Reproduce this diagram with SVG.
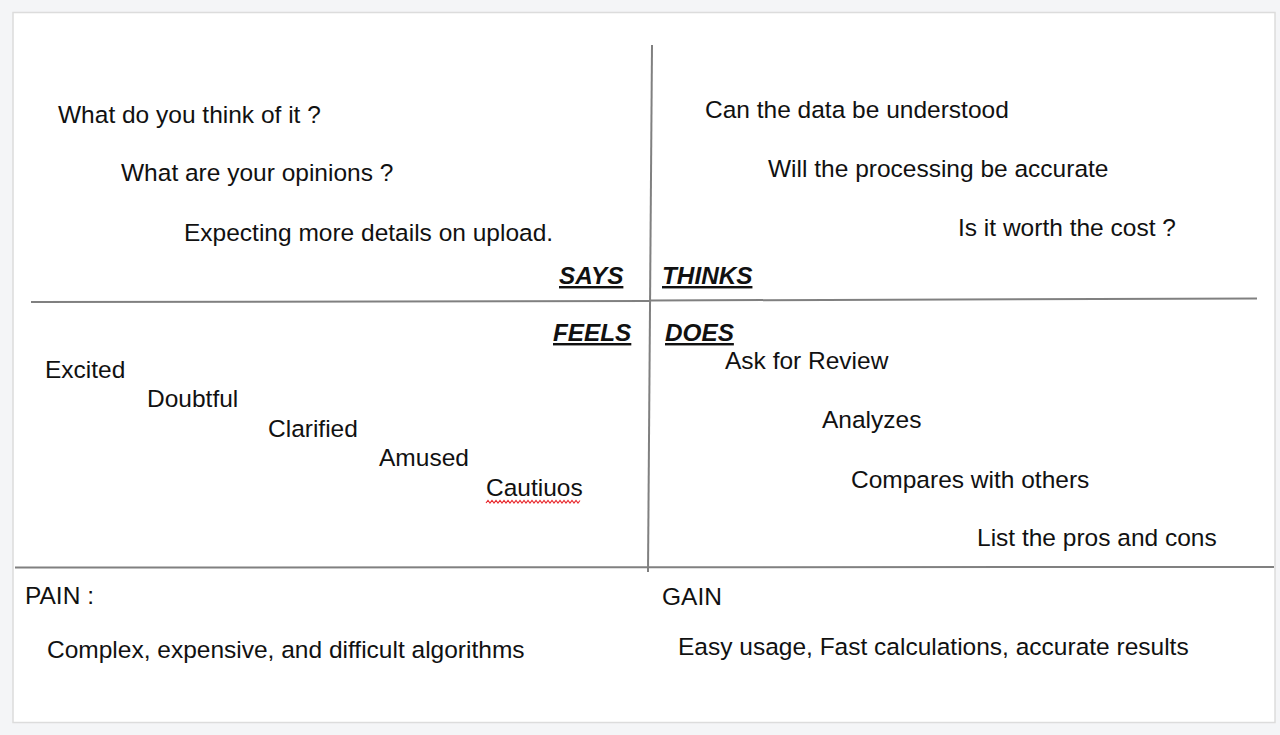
<svg xmlns="http://www.w3.org/2000/svg" width="1280" height="735" viewBox="0 0 1280 735">
<style>
.t{font-family:"Liberation Sans",Arial,sans-serif;font-size:24.5px;fill:#111}
.h{font-family:"Liberation Sans",Arial,sans-serif;font-size:24.3px;font-weight:bold;font-style:italic;fill:#111;text-decoration:underline}
.ln{stroke:#808080;stroke-width:2;fill:none}
</style>
<rect x="0" y="0" width="1280" height="735" fill="#f4f5f7"/>
<rect x="13" y="12.5" width="1262" height="710" fill="#ffffff" stroke="#dcdcdc" stroke-width="1.5"/>
<g id="connectors">
<line class="ln" x1="652" y1="45" x2="648" y2="572"/>
<line class="ln" x1="31" y1="302" x2="650" y2="301"/>
<line class="ln" x1="650" y1="300.5" x2="1257" y2="298.5"/>
<line class="ln" x1="15" y1="567.5" x2="1274" y2="567"/>
</g>
<g id="says">
<text class="t" x="58" y="123">What do you think of it ?</text>
<text class="t" x="121" y="181">What are your opinions ?</text>
<text class="t" x="184" y="241">Expecting more details on upload.</text>
<text class="h" x="559" y="284">SAYS</text>
</g>
<g id="thinks">
<text class="t" x="705" y="118">Can the data be understood</text>
<text class="t" x="768" y="177">Will the processing be accurate</text>
<text class="t" x="958" y="236">Is it worth the cost ?</text>
<text class="h" x="662" y="284">THINKS</text>
</g>
<g id="feels">
<text class="h" x="553" y="341">FEELS</text>
<text class="t" x="45" y="378">Excited</text>
<text class="t" x="147" y="407">Doubtful</text>
<text class="t" x="268" y="437">Clarified</text>
<text class="t" x="379" y="466">Amused</text>
<text class="t" x="486" y="496">Cautiuos</text>
<path d="M486 503 l2 -2.5 l2 2.5 l2 -2.5 l2 2.5 l2 -2.5 l2 2.5 l2 -2.5 l2 2.5 l2 -2.5 l2 2.5 l2 -2.5 l2 2.5 l2 -2.5 l2 2.5 l2 -2.5 l2 2.5 l2 -2.5 l2 2.5 l2 -2.5 l2 2.5 l2 -2.5 l2 2.5 l2 -2.5 l2 2.5 l2 -2.5 l2 2.5 l2 -2.5 l2 2.5 l2 -2.5 l2 2.5 l2 -2.5 l2 2.5 l2 -2.5 l2 2.5 l2 -2.5 l2 2.5 l2 -2.5 l2 2.5 l2 -2.5 l2 2.5 l2 -2.5 l2 2.5 l2 -2.5 l2 2.5 l2 -2.5 l2 2.5 l2 -2.5" fill="none" stroke="#e8262b" stroke-width="1.1"/>
</g>
<g id="does">
<text class="h" x="665" y="341">DOES</text>
<text class="t" x="725" y="369">Ask for Review</text>
<text class="t" x="822" y="428">Analyzes</text>
<text class="t" x="851" y="488">Compares with others</text>
<text class="t" x="977" y="546">List the pros and cons</text>
</g>
<g id="pain">
<text class="t" x="25" y="604">PAIN :</text>
<text class="t" x="47" y="658">Complex, expensive, and difficult algorithms</text>
</g>
<g id="gain">
<text class="t" x="662" y="605">GAIN</text>
<text class="t" x="678" y="655">Easy usage, Fast calculations, accurate results</text>
</g>
</svg>
